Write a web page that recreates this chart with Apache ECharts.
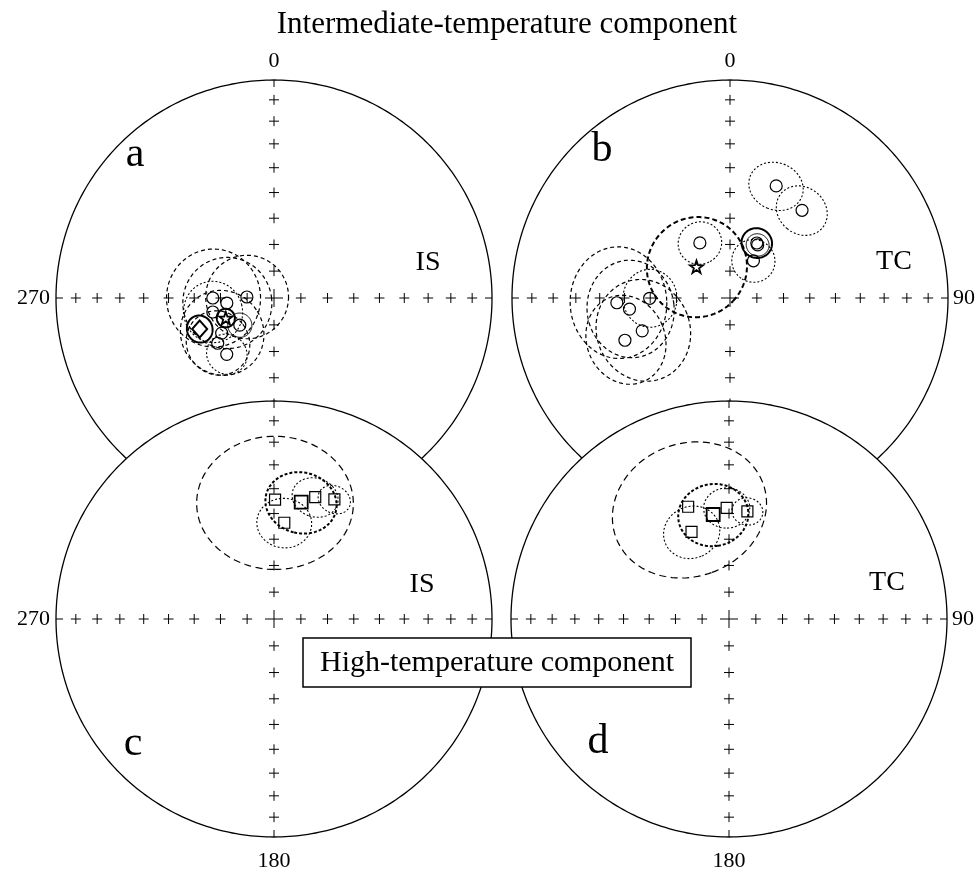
<!DOCTYPE html>
<html>
<head>
<meta charset="utf-8">
<script src="https://cdn.jsdelivr.net/npm/echarts@6.0.0/dist/echarts.min.js"></script>
<style>
  html, body { margin: 0; padding: 0; background: #fff; }
  #chart { width: 980px; height: 873px; }
</style>
</head>
<body>
<div id="chart"></div>
<script>
// ---- Site-mean directions (declination, inclination, alpha95 in degrees) ----
// (a) intermediate-temperature component, in situ
const aDec  = [270.0, 272.1, 263.9, 257.1, 231.5, 236.1, 231.2, 220.0];
const aInc  = [67.1, 79.9, 72.3, 66.5, 73.7, 66.4, 62.9, 62.4];
const aA95  = [17.9, 15.5, 16.8, 11.2, 4.5, 15.7, 11.9, 7.5];
const aRing = ['dash', 'dash', 'dash', 'dot', 'solid', 'dash', 'dash', 'dot'];
const aMean = [247.4, 70.5, 3.4];          // star
const aRef  = [247.3, 59.7, 4.9];          // diamond

// (b) intermediate-temperature component, tilt corrected
const bDec  = [22.4, 39.4, 331.3, 26.0, 27.5, 32.2, 267.6, 263.7, 269.8, 249.5, 248.1];
const bInc  = [43.7, 46.8, 66.5, 67.1, 67.6, 73.6, 46.9, 51.7, 59.8, 54.6, 46.9];
const bA95  = [9.5, 9.3, 8.0, 5.6, 4.2, 8.0, 19.4, 17.2, 10.4, 18.3, 15.7];
const bRing = ['dot', 'dot', 'dot', 'bold', 'solid', 'dot', 'dash', 'dash', 'dot', 'dash', 'dash'];
const bMean = [313.0, 72.9, 18.7];         // star

// (c) high-temperature component, in situ
const cDec  = [0.5, 18.7, 26.8, 6.1];
const cInc  = [44.4, 40.7, 38.5, 53.4];
const cA95  = [27.1, 7.9, 5.6, 9.7];
const cRing = ['long', 'dot', 'dot', 'dot'];
const cMean = [13.1, 44.2, 12.3];          // bold square

// (d) high-temperature component, tilt corrected
const dDec  = [340.0, 358.8, 9.7, 336.7];
const dInc  = [44.4, 47.7, 48.5, 54.2];
const dA95  = [27.1, 8.0, 5.4, 10.1];
const dRing = ['long', 'dot', 'dot', 'dot'];
const dMean = [351.4, 49.9, 12.3];

// Net furniture
const crossIncs = [10, 20, 30, 40, 50, 60, 70, 80];
const tickLabels = { N: '0', E: '90', S: '180', W: '270' };

// ---- geometry helpers ----
const RAD = Math.PI / 180;
const SERIF = "'Liberation Serif', 'Times New Roman', serif";

// lower-hemisphere equal-area projection of a unit vector (north, east, down)
function projectVec(x, y, z) {
  if (z < 0) { x = -x; y = -y; z = -z; }
  const h = Math.hypot(x, y);
  const rho = Math.sqrt(Math.max(0, 1 - z));
  if (h < 1e-12) return [0, 0];
  return [rho * y / h, rho * x / h];
}
function projectDir(dec, inc) {
  const d = dec * RAD, i = inc * RAD;
  return projectVec(Math.cos(i) * Math.cos(d), Math.cos(i) * Math.sin(d), Math.sin(i));
}
function smallCircle(dec, inc, a95, n) {
  const d = dec * RAD, i = inc * RAD, a = a95 * RAD;
  const v  = [Math.cos(i) * Math.cos(d), Math.cos(i) * Math.sin(d), Math.sin(i)];
  const u1 = [-Math.sin(i) * Math.cos(d), -Math.sin(i) * Math.sin(d), Math.cos(i)];
  const u2 = [-Math.sin(d), Math.cos(d), 0];
  const pts = [];
  for (let k = 0; k <= n; k++) {
    const p = 2 * Math.PI * k / n;
    const cp = Math.cos(p), sp = Math.sin(p), ca = Math.cos(a), sa = Math.sin(a);
    pts.push(projectVec(
      ca * v[0] + sa * (cp * u1[0] + sp * u2[0]),
      ca * v[1] + sa * (cp * u1[1] + sp * u2[1]),
      ca * v[2] + sa * (cp * u1[2] + sp * u2[2])));
  }
  return pts;
}

const ringStyles = {
  dot:   { lineWidth: 1.1, lineDash: [2, 2] },
  dash:  { lineWidth: 1.2, lineDash: [4, 3] },
  long:  { lineWidth: 1.2, lineDash: [7, 4.5] },
  bold:  { lineWidth: 2.0, lineDash: null },
  solid: { lineWidth: 1.0, lineDash: null },
  meanDash: { lineWidth: 2.0, lineDash: [5, 3] },
  meanDot:  { lineWidth: 2.0, lineDash: [3, 2] }
};
const ringKeys = Object.keys(ringStyles);

// ---- panels ----
const panels = [
  { cx: 274, cy: 298, labels: ['N', 'W'], z: 1 },
  { cx: 730, cy: 298, labels: ['N', 'E'], z: 1 },
  { cx: 274, cy: 619, labels: ['W', 'S'], z: 10 },
  { cx: 729, cy: 619, labels: ['E', 'S'], z: 10 }
];
const R = 218;

const grids = [], xAxes = [], yAxes = [], series = [];
panels.forEach((p, k) => {
  grids.push({ left: p.cx - R, top: p.cy - R, width: 2 * R, height: 2 * R });
  xAxes.push({ gridIndex: k, type: 'value', min: -1, max: 1, show: false });
  yAxes.push({ gridIndex: k, type: 'value', min: -1, max: 1, show: false });
});

function plus(pt, arm) {
  return [
    { type: 'line', shape: { x1: pt[0] - arm, y1: pt[1], x2: pt[0] + arm, y2: pt[1] }, style: { stroke: '#000', lineWidth: 1 } },
    { type: 'line', shape: { x1: pt[0], y1: pt[1] - arm, x2: pt[0], y2: pt[1] + arm }, style: { stroke: '#000', lineWidth: 1 } }
  ];
}

function netRenderer(panel) {
  return function (params, api) {
    const ch = [];
    const rim = [];
    for (let k = 0; k <= 360; k++) rim.push(api.coord([Math.cos(k * RAD), Math.sin(k * RAD)]));
    ch.push({ type: 'polygon', shape: { points: rim }, style: { fill: '#fff', stroke: '#000', lineWidth: 1.3 } });
    const dirs = { N: [0, 1], E: [1, 0], S: [0, -1], W: [-1, 0] };
    Object.keys(dirs).forEach(key => {
      const dv = dirs[key];
      crossIncs.forEach(inc => {
        const rho = Math.sqrt(1 - Math.sin(inc * RAD));
        ch.push(...plus(api.coord([dv[0] * rho, dv[1] * rho]), 5));
      });
      const e = api.coord([dv[0], dv[1]]);
      ch.push({ type: 'line', shape: { x1: e[0], y1: e[1], x2: e[0] - dv[0] * 7, y2: e[1] + dv[1] * 7 },
                style: { stroke: '#000', lineWidth: 1 } });
    });
    ch.push(...plus(api.coord([0, 0]), 9));
    panel.labels.forEach(key => {
      const e = api.coord(dirs[key]);
      const t = { type: 'text', style: { text: tickLabels[key], font: '22px ' + SERIF, fill: '#000' } };
      if (key === 'N') { t.x = e[0]; t.y = e[1] - 19; t.style.align = 'center'; t.style.verticalAlign = 'middle'; }
      if (key === 'S') { t.x = e[0]; t.y = e[1] + 24; t.style.align = 'center'; t.style.verticalAlign = 'middle'; }
      if (key === 'W') { t.x = e[0] - 6; t.y = e[1]; t.style.align = 'right'; t.style.verticalAlign = 'middle'; }
      if (key === 'E') { t.x = e[0] + 5; t.y = e[1]; t.style.align = 'left'; t.style.verticalAlign = 'middle'; }
      ch.push(t);
    });
    return { type: 'group', children: ch };
  };
}

function ringRenderer(params, api) {
  const pts = smallCircle(api.value(2), api.value(3), api.value(4), 120).map(q => api.coord(q));
  const st = ringStyles[ringKeys[api.value(5)]];
  return { type: 'polyline', shape: { points: pts },
           style: { stroke: '#000', fill: null, lineWidth: st.lineWidth, lineDash: st.lineDash } };
}

function ringData(decs, incs, a95s, rings) {
  return decs.map((d, i) => {
    const xy = projectDir(d, incs[i]);
    return [xy[0], xy[1], d, incs[i], a95s[i], ringKeys.indexOf(rings[i])];
  });
}
function pointData(decs, incs) {
  return decs.map((d, i) => projectDir(d, incs[i]));
}

const STAR = 'path://M0,-10L2.35,-3.24L9.51,-3.09L3.8,1.24L5.88,8.09L0,4L-5.88,8.09L-3.8,1.24L-9.51,-3.09L-2.35,-3.24Z';

function addPanel(k, ringsData, ptsData, symbol, size, mean, meanRing, meanSymbol, meanSize, extra) {
  const z = panels[k].z;
  const base = { xAxisIndex: k, yAxisIndex: k, silent: true, animation: false };
  series.push(Object.assign({ type: 'custom', renderItem: netRenderer(panels[k]), data: [[0, 0]], z: z, clip: false }, base));
  const allRings = ringsData.slice();
  const m = projectDir(mean[0], mean[1]);
  allRings.push([m[0], m[1], mean[0], mean[1], mean[2], ringKeys.indexOf(meanRing)]);
  if (extra) {
    const x = projectDir(extra[0], extra[1]);
    allRings.push([x[0], x[1], extra[0], extra[1], extra[2], ringKeys.indexOf('bold')]);
  }
  series.push(Object.assign({ type: 'custom', renderItem: ringRenderer, data: allRings, z: z + 1, clip: false }, base));
  series.push(Object.assign({ type: 'scatter', data: ptsData, symbol: symbol, symbolSize: size, z: z + 2,
    itemStyle: { color: 'rgba(0,0,0,0)', borderColor: '#000', borderWidth: 1.2, opacity: 1 } }, base));
  series.push(Object.assign({ type: 'scatter', data: [m], symbol: meanSymbol, symbolSize: meanSize, symbolKeepAspect: true, z: z + 3,
    itemStyle: { color: 'rgba(0,0,0,0)', borderColor: '#000', borderWidth: 1.8, opacity: 1 } }, base));
  if (extra) {
    const x = projectDir(extra[0], extra[1]);
    series.push(Object.assign({ type: 'scatter', data: [x], symbol: 'diamond', symbolSize: [15, 17], z: z + 3,
      itemStyle: { color: 'rgba(0,0,0,0)', borderColor: '#000', borderWidth: 2, opacity: 1 } }, base));
  }
}

addPanel(0, ringData(aDec, aInc, aA95, aRing), pointData(aDec, aInc), 'circle', 12, aMean, 'bold', STAR, 13, aRef);
addPanel(1, ringData(bDec, bInc, bA95, bRing), pointData(bDec, bInc), 'circle', 12, bMean, 'meanDash', STAR, 13, null);
addPanel(2, ringData(cDec, cInc, cA95, cRing), pointData(cDec, cInc), 'rect', 11, cMean, 'meanDot', 'rect', 13, null);
addPanel(3, ringData(dDec, dInc, dA95, dRing), pointData(dDec, dInc), 'rect', 11, dMean, 'meanDot', 'rect', 13, null);

const txt = (x, y, s, size) => ({ type: 'text', x: x, y: y, z: 100,
  style: { text: s, font: size + 'px ' + SERIF, fill: '#000', align: 'center', verticalAlign: 'middle' } });

const chart = echarts.init(document.getElementById('chart'), null, { renderer: 'canvas' });
chart.setOption({
  animation: false,
  backgroundColor: '#fff',
  grid: grids, xAxis: xAxes, yAxis: yAxes,
  series: series,
  graphic: [
    txt(507, 25, 'Intermediate-temperature component', 31),
    txt(135, 155, 'a', 42), txt(602, 150, 'b', 42),
    txt(133, 744, 'c', 42), txt(598, 742, 'd', 42),
    txt(428, 263, 'IS', 28), txt(894, 262, 'TC', 28),
    txt(422, 585, 'IS', 28), txt(887, 583, 'TC', 28),
    { type: 'rect', z: 100, shape: { x: 303, y: 638, width: 388, height: 49 },
      style: { fill: '#fff', stroke: '#000', lineWidth: 1.5 } },
    Object.assign(txt(497, 663, 'High-temperature component', 30), { z: 101 })
  ]
});
</script>
</body>
</html>
